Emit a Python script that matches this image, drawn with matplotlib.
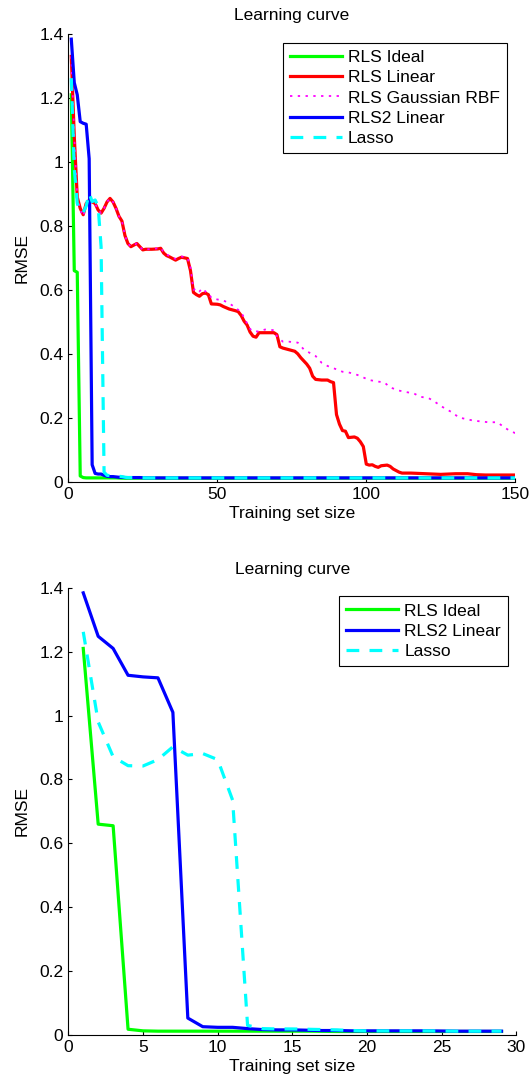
import matplotlib
matplotlib.use("Agg")
import matplotlib.pyplot as plt

plt.rcParams['font.family'] = ['Liberation Sans', 'DejaVu Sans']

# ---------------- data ----------------
# RLS Ideal (green)
ideal_x = [1, 2, 3, 4, 5, 6, 8, 10, 12, 14, 16, 18, 20, 22, 24, 26, 28, 29]
ideal_y = [1.21, 0.66, 0.655, 0.018, 0.013, 0.012, 0.012, 0.012, 0.012, 0.012,
           0.012, 0.011, 0.011, 0.011, 0.011, 0.011, 0.011, 0.011]
ideal_tail_x = [40, 60, 80, 100, 120, 150]
ideal_tail_y = [0.011, 0.011, 0.011, 0.011, 0.011, 0.011]

# RLS2 Linear (blue)
rls2_x = [1, 2, 3, 4, 5, 6, 7, 8, 9, 10, 11, 12, 13, 14, 15, 16, 17, 18, 19, 20,
          22, 24, 26, 28, 29]
rls2_y = [1.384, 1.248, 1.21, 1.126, 1.121, 1.118, 1.01, 0.053, 0.026, 0.024,
          0.024, 0.02, 0.017, 0.016, 0.016, 0.015, 0.014, 0.014, 0.013, 0.013,
          0.013, 0.013, 0.012, 0.012, 0.012]
rls2_tail_x = [40, 60, 80, 100, 120, 150]
rls2_tail_y = [0.012, 0.012, 0.012, 0.012, 0.012, 0.012]

# Lasso (cyan)
lasso_x = [1, 2, 3, 4, 5, 6, 7, 8, 9, 10, 11, 12, 13, 14, 15, 16, 17, 18, 19, 20,
           22, 24, 26, 28, 29]
lasso_y = [1.262, 0.98, 0.871, 0.843, 0.842, 0.862, 0.902, 0.876, 0.881, 0.862,
           0.735, 0.03, 0.02, 0.019, 0.019, 0.018, 0.017, 0.016, 0.014, 0.013,
           0.013, 0.013, 0.012, 0.012, 0.012]
lasso_tail_x = [40, 60, 80, 100, 120, 150]
lasso_tail_y = [0.012, 0.012, 0.012, 0.012, 0.012, 0.012]

# RLS Linear (red)
lin_x = [1, 2, 3, 4, 5, 6, 7, 8, 9, 10, 11, 12, 13, 14, 15, 16, 17, 18, 19, 20,
         21, 22, 23, 24, 25, 26, 28, 30, 31, 32, 33, 34, 35, 36, 37, 38, 39, 40,
         41, 42, 43, 44, 45, 46, 47, 48, 50, 51, 52, 54, 56, 57, 58, 59, 60, 61,
         62, 63, 64, 66, 69, 70, 71, 72, 74, 76, 77, 78, 80, 81, 82, 83, 85, 87,
         88, 89, 90, 91, 92, 93, 94, 96, 97, 98, 99, 100, 101, 102, 103, 104,
         105, 107, 108, 109, 110, 111, 112, 115, 120, 125, 130, 134, 137, 140,
         145, 150]
lin_y = [1.33, 1.08, 0.89, 0.855, 0.835, 0.87, 0.88, 0.875, 0.87, 0.85, 0.84,
         0.855, 0.875, 0.886, 0.875, 0.855, 0.83, 0.815, 0.77, 0.745, 0.735,
         0.74, 0.745, 0.735, 0.725, 0.727, 0.727, 0.728, 0.73, 0.715, 0.707,
         0.703, 0.698, 0.693, 0.698, 0.702, 0.70, 0.698, 0.66, 0.592, 0.585,
         0.58, 0.588, 0.59, 0.585, 0.556, 0.555, 0.553, 0.548, 0.54, 0.535,
         0.532, 0.52, 0.502, 0.49, 0.468, 0.455, 0.452, 0.466, 0.466, 0.466,
         0.46, 0.422, 0.418, 0.413, 0.408, 0.40, 0.388, 0.368, 0.355, 0.33,
         0.32, 0.318, 0.318, 0.313, 0.31, 0.21, 0.18, 0.16, 0.158, 0.138, 0.14,
         0.136, 0.125, 0.11, 0.055, 0.052, 0.053, 0.048, 0.045, 0.05, 0.052,
         0.048, 0.04, 0.035, 0.03, 0.027, 0.027, 0.025, 0.023, 0.025, 0.025,
         0.022, 0.021, 0.021, 0.021]

# RLS Gaussian RBF (magenta)
rbf_x = [1, 2, 3, 4, 5, 6, 7, 8, 9, 10, 11, 12, 13, 14, 15, 16, 17, 18, 19, 20,
         21, 22, 23, 24, 25, 26, 28, 30, 31, 32, 33, 34, 35, 36, 37, 38, 39, 40,
         41, 42, 43, 44, 45, 46, 47, 48, 50, 52, 54, 56, 58, 60, 61, 62, 64, 66,
         69, 70, 72, 74, 77, 79, 81, 83, 85, 87, 89, 92, 94, 97, 99, 101, 104,
         106, 108, 111, 113, 116, 118, 121, 123, 125, 127, 129, 131, 134, 136,
         139, 141, 144, 146, 148, 150]
rbf_y = [1.33, 1.08, 0.89, 0.85, 0.83, 0.865, 0.88, 0.875, 0.87, 0.85, 0.84,
         0.855, 0.875, 0.886, 0.875, 0.855, 0.83, 0.815, 0.77, 0.745, 0.735,
         0.74, 0.745, 0.735, 0.725, 0.727, 0.727, 0.73, 0.732, 0.717, 0.71,
         0.706, 0.70, 0.697, 0.70, 0.704, 0.703, 0.70, 0.67, 0.60, 0.605,
         0.595, 0.605, 0.595, 0.59, 0.575, 0.57, 0.567, 0.558, 0.545, 0.53,
         0.495, 0.478, 0.47, 0.47, 0.476, 0.474, 0.455, 0.438, 0.438, 0.435,
         0.414, 0.403, 0.393, 0.372, 0.362, 0.355, 0.344, 0.342, 0.334, 0.326,
         0.318, 0.313, 0.311, 0.295, 0.285, 0.281, 0.276, 0.266, 0.261, 0.25,
         0.237, 0.226, 0.216, 0.201, 0.195, 0.191, 0.188, 0.186, 0.186, 0.172,
         0.16, 0.152]

top_xticks = [0, 50, 100, 150]
bot_xticks = [0, 5, 10, 15, 20, 25, 30]
yticks = [0, 0.2, 0.4, 0.6, 0.8, 1, 1.2, 1.4]
ytick_labels = ['0', '0.2', '0.4', '0.6', '0.8', '1', '1.2', '1.4']

GREEN = (0, 1, 0)
RED = (1, 0, 0)
MAG = (1, 0, 1)
BLUE = (0, 0, 1)
CYAN = (0, 1, 1)

FS = 12.5
LW = 2.3

fig = plt.figure(figsize=(5.32, 10.84), dpi=100)
ax1 = fig.add_axes([0.1284, 0.5556, 0.8402, 0.4130])
ax2 = fig.add_axes([0.1284, 0.0452, 0.8424, 0.4126])


def style(ax, xticks, xmax):
    ax.set_xlim(0, xmax)
    ax.set_ylim(0, 1.4)
    ax.set_xticks(xticks)
    ax.set_yticks(yticks)
    ax.set_yticklabels(ytick_labels)
    for s in ['top', 'right']:
        ax.spines[s].set_visible(False)
    for s in ['left', 'bottom']:
        ax.spines[s].set_linewidth(0.8)
    ax.tick_params(direction='in', length=3, width=0.8, labelsize=FS)
    ax.tick_params(axis='x', pad=3.5)
    ax.tick_params(axis='y', pad=3.5)
    ax.set_title('Learning curve', fontsize=FS, pad=10)
    ax.set_xlabel('Training set size', fontsize=FS, labelpad=3)
    ax.set_ylabel('RMSE', fontsize=FS, labelpad=7)


# top panel
ax1.plot(ideal_x + ideal_tail_x, ideal_y + ideal_tail_y, color=GREEN, lw=LW,
         label='RLS Ideal')
ax1.plot(lin_x, lin_y, color=RED, lw=LW, label='RLS Linear')
ax1.plot(rbf_x, rbf_y, color=MAG, lw=1.3, linestyle=(0, (1.3, 3.0)),
         label='RLS Gaussian RBF')
ax1.plot(rls2_x + rls2_tail_x, rls2_y + rls2_tail_y, color=BLUE, lw=LW,
         label='RLS2 Linear')
ax1.plot(lasso_x + lasso_tail_x, lasso_y + lasso_tail_y, color=CYAN, lw=LW,
         linestyle=(0, (4, 3.2)), label='Lasso')
style(ax1, top_xticks, 150)

# bottom panel
ax2.plot(ideal_x, ideal_y, color=GREEN, lw=LW, label='RLS Ideal')
ax2.plot(rls2_x, rls2_y, color=BLUE, lw=LW, label='RLS2 Linear')
ax2.plot(lasso_x, lasso_y, color=CYAN, lw=LW, linestyle=(0, (4, 3.2)),
         label='Lasso')
style(ax2, bot_xticks, 30)

for ax in (ax1, ax2):
    leg = ax.legend(loc='upper right', fontsize=FS, handlelength=3.0,
                    handletextpad=0.35, labelspacing=0.3, borderpad=0.4,
                    borderaxespad=0.5, fancybox=False, framealpha=1,
                    edgecolor='black')
    leg.get_frame().set_linewidth(0.8)

fig.savefig('out.png', dpi=100)
